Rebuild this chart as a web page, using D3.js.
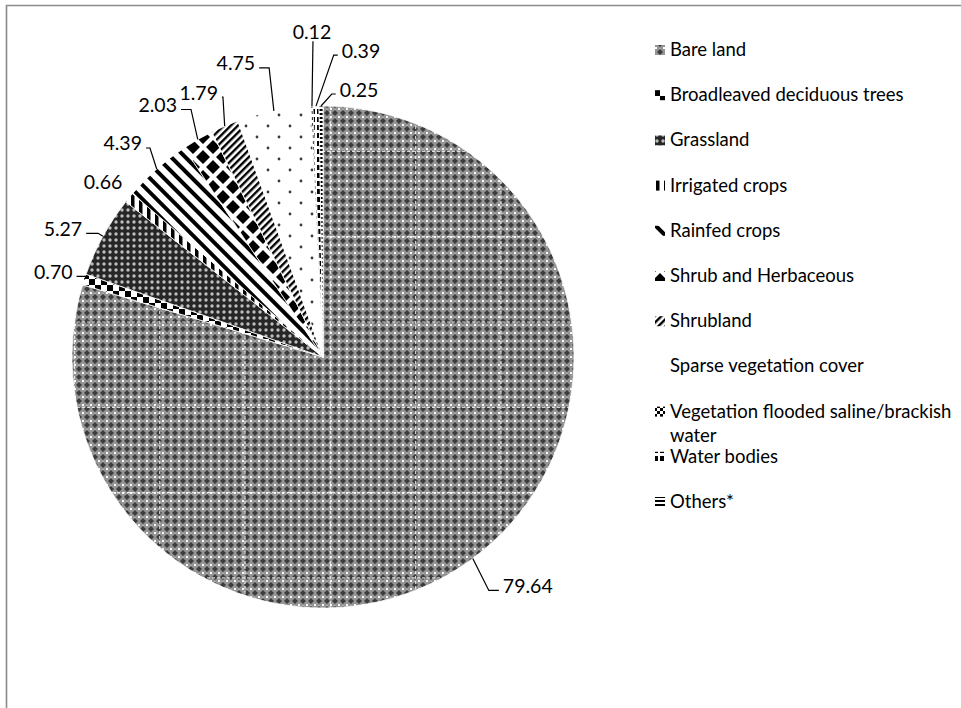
<!DOCTYPE html>
<html>
<head>
<meta charset="utf-8">
<script src="https://cdn.jsdelivr.net/npm/d3@7"></script>
<style>
  body { margin: 0; background: #fff; }
  svg { display: block; }
  text { font-family: Lato, "Open Sans", sans-serif; fill: #000; }
</style>
</head>
<body>
<svg id="chart" width="961" height="708"></svg>
<script>
// Land cover shares (%)
const categories = [
  "Bare land",
  "Broadleaved deciduous trees",
  "Grassland",
  "Irrigated crops",
  "Rainfed crops",
  "Shrub and Herbaceous",
  "Shrubland",
  "Sparse vegetation cover",
  "Vegetation flooded saline/brackish water",
  "Water bodies",
  "Others*"
];
const shares = [79.64, 0.70, 5.27, 0.66, 4.39, 2.03, 1.79, 4.75, 0.12, 0.39, 0.25];

// Placement of each value label relative to its slice's rim point:
// dx/dy = label centre offset, side = where the leader line meets the label, seg = elbow length
const labelLayout = [
  { dx: 55,  dy: 27,  side: "left",   seg: 10 },
  { dx: -31, dy: -8,  side: "right",  seg: 10 },
  { dx: -40, dy: -8,  side: "right",  seg: 12 },
  { dx: -26, dy: -16, side: "none",   seg: 0 },
  { dx: -34, dy: -26, side: "right",  seg: 4 },
  { dx: -40, dy: -35, side: "right",  seg: 10 },
  { dx: -26, dy: -34, side: "right",  seg: 1 },
  { dx: -38, dy: -48, side: "right",  seg: 10 },
  { dx: 0,   dy: -75, side: "bottom", seg: 0 },
  { dx: 45,  dy: -56, side: "left",   seg: 4 },
  { dx: 38,  dy: -17, side: "left",   seg: 4 }
];

const svg = d3.select("#chart");
const W = 961, H = 708;
const cx = 323, cy = 357, radius = 251;

// ---- fill patterns ----
const defs = svg.append("defs");
function pattern(id, w, h, transform) {
  const p = defs.append("pattern")
    .attr("id", id).attr("patternUnits", "userSpaceOnUse")
    .attr("width", w).attr("height", h);
  if (transform) p.attr("patternTransform", transform);
  return p;
}
// 0 bare land: grey lattice with white crosses
{
  const p = pattern("p0", 8, 8);
  p.append("rect").attr("width", 8).attr("height", 8).attr("fill", "#959595");
  p.append("path").attr("d", "M4,1 L7,4 L4,7 L1,4 Z").attr("fill", "#3c3c3c");
  p.append("path").attr("d", "M-1,0 H1 M7,0 H9 M-1,8 H1 M7,8 H9 M0,-1 V1 M8,-1 V1 M0,7 V9 M8,7 V9")
    .attr("stroke", "#fff").attr("stroke-width", 1.5);
  p.append("rect").attr("x", 3.3).attr("y", 0).attr("width", 1.4).attr("height", 0.8).attr("fill", "#c8c8c8");
}
// 1 broadleaved: coarse checkerboard
{
  const p = pattern("p1", 12, 12);
  p.append("rect").attr("width", 12).attr("height", 12).attr("fill", "#fff");
  p.append("rect").attr("width", 6).attr("height", 6).attr("fill", "#000");
  p.append("rect").attr("x", 6).attr("y", 6).attr("width", 6).attr("height", 6).attr("fill", "#000");
}
// 2 grassland: dark with light dots
{
  const p = pattern("p2", 6, 6);
  p.append("rect").attr("width", 6).attr("height", 6).attr("fill", "#262626");
  p.append("circle").attr("cx", 3).attr("cy", 3).attr("r", 1.7).attr("fill", "#bdbdbd");
}
// 3 irrigated crops: vertical stripes
{
  const p = pattern("p3", 8, 8);
  p.append("rect").attr("width", 8).attr("height", 8).attr("fill", "#fff");
  p.append("rect").attr("width", 3.5).attr("height", 8).attr("fill", "#000");
}
// 4 rainfed crops: wide downward diagonal stripes
{
  const p = pattern("p4", 10, 10, "rotate(-45)");
  p.append("rect").attr("width", 10).attr("height", 10).attr("fill", "#fff");
  p.append("rect").attr("x", 2).attr("width", 4).attr("height", 10).attr("fill", "#000");
}
// 5 shrub and herbaceous: large diamonds
{
  const p = pattern("p5", 20, 20);
  p.append("rect").attr("width", 20).attr("height", 20).attr("fill", "#fff");
  p.append("path")
    .attr("d", "M10,3 L17,10 L10,17 L3,10 Z M0,-7 L7,0 L0,7 L-7,0 Z M20,-7 L27,0 L20,7 L13,0 Z M0,13 L7,20 L0,27 L-7,20 Z M20,13 L27,20 L20,27 L13,20 Z")
    .attr("fill", "#000");
}
// 6 shrubland: narrow upward diagonal stripes
{
  const p = pattern("p6", 5, 5, "rotate(45)");
  p.append("rect").attr("width", 5).attr("height", 5).attr("fill", "#fff");
  p.append("rect").attr("width", 2.4).attr("height", 5).attr("fill", "#000");
}
// 7 sparse vegetation: scattered dots
{
  const p = pattern("p7", 22, 22);
  p.append("rect").attr("width", 22).attr("height", 22).attr("fill", "#fff");
  [[0,0],[22,0],[0,22],[22,22],[11,11]].forEach(([x, y]) =>
    p.append("circle").attr("cx", x).attr("cy", y).attr("r", 1.4).attr("fill", "#3a3a3a"));
}
// 8 vegetation flooded: small checker
{
  const p = pattern("p8", 6, 6);
  p.append("rect").attr("width", 6).attr("height", 6).attr("fill", "#fff");
  p.append("rect").attr("width", 3).attr("height", 3).attr("fill", "#000");
  p.append("rect").attr("x", 3).attr("y", 3).attr("width", 3).attr("height", 3).attr("fill", "#000");
}
// 9 water bodies: dashed blocks
{
  const p = pattern("p9", 6, 8);
  p.append("rect").attr("width", 6).attr("height", 8).attr("fill", "#fff");
  p.append("rect").attr("width", 4).attr("height", 5).attr("fill", "#000");
}
// 10 others: horizontal stripes
{
  const p = pattern("p10", 4, 4);
  p.append("rect").attr("width", 4).attr("height", 4).attr("fill", "#fff");
  p.append("rect").attr("width", 4).attr("height", 2).attr("fill", "#000");
}
const fillOf = i => `url(#p${i})`;

// ---- chart border (open on the right/bottom) ----
svg.append("path")
  .attr("d", `M6.5,${H} V5.5 H${W}`)
  .attr("fill", "none").attr("stroke", "#8a8a8a").attr("stroke-width", 1.6);

// ---- pie ----
const pie = d3.pie().sort(null).value(d => d).startAngle(0).endAngle(2 * Math.PI);
const arcs = pie(shares);
const arc = d3.arc().innerRadius(0).outerRadius(radius);
const rim = d3.arc().innerRadius(radius).outerRadius(radius);

const g = svg.append("g").attr("transform", `translate(${cx},${cy})`);

g.selectAll("path.slice")
  .data(arcs)
  .join("path")
  .attr("class", "slice")
  .attr("d", arc)
  .attr("fill", (d, i) => fillOf(i))
  .attr("stroke", "#fff")
  .attr("stroke-width", 0.8);

// faint tile seams across the largest slice
defs.append("clipPath").attr("id", "bareClip")
  .append("path").attr("d", arc(arcs[0]));
const seams = g.append("g").attr("clip-path", "url(#bareClip)")
  .attr("stroke", "#fff").attr("stroke-width", 1.2).attr("stroke-dasharray", "3,2").attr("opacity", 0.75);
const seamStep = 85.3;
d3.range(-3, 4).forEach(k => {
  const x = -78 + k * seamStep;
  seams.append("line").attr("x1", x).attr("x2", x).attr("y1", -radius).attr("y2", radius);
  const y = -35 + k * seamStep;
  seams.append("line").attr("y1", y).attr("y2", y).attr("x1", -radius).attr("x2", radius);
});

// ---- value labels with leader lines ----
const fmt = d3.format(".2f");
const labelG = svg.append("g");
arcs.forEach((d, i) => {
  const [ax, ay] = rim.centroid(d);
  const px = cx + ax, py = cy + ay;
  const L = labelLayout[i];
  const tx = px + L.dx, ty = py + L.dy;
  const t = labelG.append("text")
    .attr("x", tx).attr("y", ty)
    .attr("text-anchor", "middle")
    .attr("dominant-baseline", "central")
    .attr("font-size", 19.5)
    .text(fmt(d.data));
  const w = t.node().getComputedTextLength();
  let pts = null;
  if (L.side === "left") {
    const ex = tx - w / 2 - 4, ey = ty + 5;
    pts = [[ex, ey], [ex - L.seg, ey], [px, py]];
  } else if (L.side === "right") {
    const ex = tx + w / 2 + 4, ey = ty + 5;
    pts = [[ex, ey], [ex + L.seg, ey], [px, py]];
  } else if (L.side === "bottom") {
    pts = [[tx + 1, ty + 10], [px, py]];
  }
  if (pts) {
    labelG.append("path")
      .attr("d", d3.line()(pts))
      .attr("fill", "none").attr("stroke", "#000").attr("stroke-width", 1.2);
  }
});

// ---- legend ----
const legend = svg.append("g");
const legX = 655, legTextX = 670, legY0 = 49, legStep = 45.2, legFont = 18.5, maxW = 288;
categories.forEach((name, i) => {
  const y = legY0 + i * legStep;
  legend.append("rect")
    .attr("x", legX).attr("y", y - 4).attr("width", 10).attr("height", 10)
    .attr("fill", fillOf(i));
  const t = legend.append("text")
    .attr("x", legTextX).attr("y", y)
    .attr("dominant-baseline", "central")
    .attr("font-size", legFont);
  // wrap long names onto a second line
  const words = name.split(" ");
  let line = [];
  let tspan = t.append("tspan").attr("x", legTextX).attr("dy", 0);
  words.forEach(wd => {
    line.push(wd);
    tspan.text(line.join(" "));
    if (tspan.node().getComputedTextLength() > maxW && line.length > 1) {
      line.pop();
      tspan.text(line.join(" "));
      line = [wd];
      tspan = t.append("tspan").attr("x", legTextX).attr("dy", 24).text(wd);
    }
  });
});
</script>
</body>
</html>
